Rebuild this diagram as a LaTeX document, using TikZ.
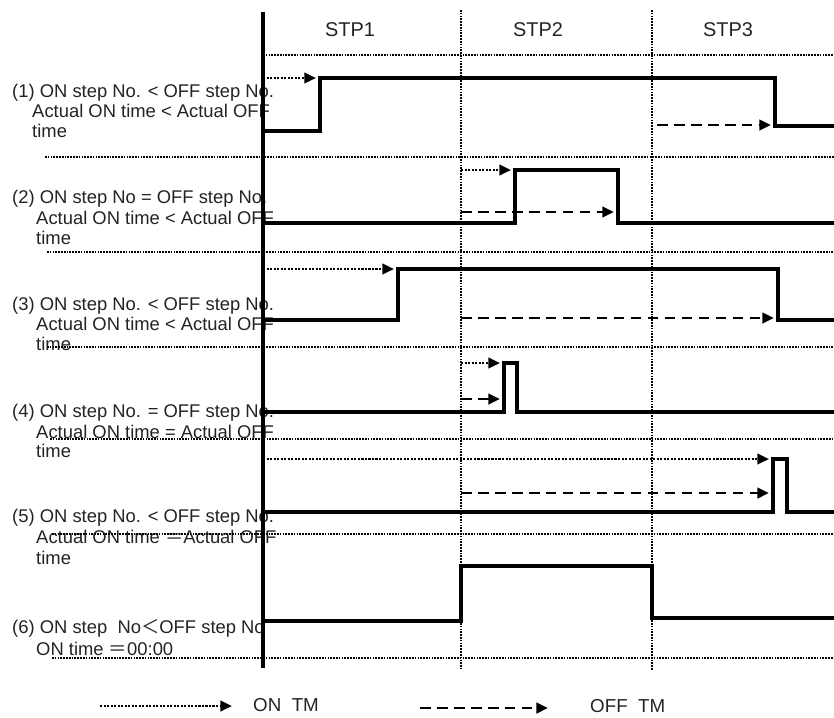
\documentclass[tikz,border=0pt]{standalone}
\usepackage{fontspec}
\setmainfont{Liberation Sans}
\newfontfamily\cjkfont{Noto Sans CJK SC}
\usetikzlibrary{arrows.meta}
\definecolor{txtgray}{RGB}{35,35,35}

\tikzset{
  sig/.style={line width=2.8pt, line join=miter},
  ontm/.style={line width=2.2pt, dash pattern=on 1.8pt off 1.2pt, -{Triangle[length=10pt,width=9pt]}},
  offtm/.style={line width=2.4pt, dash pattern=on 9pt off 5.5pt, -{Triangle[length=10pt,width=9pt]}},
  gridline/.style={line width=2pt, dash pattern=on 1.4pt off 1pt},
  lbl/.style={anchor=base west, inner sep=0pt, font=\fontsize{15.7}{17.4}\selectfont, text=txtgray},
  head/.style={anchor=base, inner sep=0pt, font=\fontsize{17}{19}\selectfont, text=txtgray},
}

\begin{document}
\begin{tikzpicture}[x=0.03cm, y=-0.03cm]
  \useasboundingbox (0,0) rectangle (834,717);

  % Step headers
  \node[head] (stp1) at (350,36) {STP1};
  \node[head] (stp2) at (538,36) {STP2};
  \node[head] (stp3) at (728,36) {STP3};

  % Row labels
  \node[lbl] (c1a) at (12,97)  {(1) ON step No. < OFF step No.};
  \node[lbl] (c1b) at (32,117) {Actual ON time < Actual OFF};
  \node[lbl] (c1c) at (32,137) {time};
  \node[lbl] (c2a) at (12,203) {(2) ON step No = OFF step No.};
  \node[lbl] (c2b) at (36,224) {Actual ON time < Actual OFF};
  \node[lbl] (c2c) at (36,244) {time};
  \node[lbl] (c3a) at (12,310) {(3) ON step No. < OFF step No.};
  \node[lbl] (c3b) at (36,330) {Actual ON time < Actual OFF};
  \node[lbl] (c3c) at (36,350) {time};
  \node[lbl] (c4a) at (12,417) {(4) ON step No. = OFF step No.};
  \node[lbl] (c4b) at (36,438) {Actual ON time = Actual OFF};
  \node[lbl] (c4c) at (36,457) {time};
  \node[lbl] (c5a) at (12,522) {(5) ON step No. < OFF step No.};
  \node[lbl] (c5b) at (36,543) {Actual ON time {\cjkfont ＝}Actual OFF};
  \node[lbl] (c5c) at (36,564) {time};
  \node[lbl] (c6a) at (12,633) {(6) ON step\ \ No{\cjkfont ＜}OFF step No};
  \node[lbl] (c6b) at (36,655) {ON time {\cjkfont ＝}00:00};

  % Grid lines
  \draw[gridline] (263,55) -- (834,55);
  \draw[gridline] (45,157) -- (834,157);
  \draw[gridline] (47,252) -- (834,252);
  \draw[gridline] (47,347) -- (834,347);
  \draw[gridline] (50,439) -- (834,439);
  \draw[gridline] (52,534) -- (834,534);
  \draw[gridline] (52,658) -- (834,658);
  \draw[gridline] (461,10) -- (461,668);
  \draw[gridline] (652,10) -- (652,670);

  % (1)
  \draw[sig] (263,131) -- (320,131) -- (320,78) -- (775,78) -- (775,126) -- (834,126);
  \draw[ontm] (263,78) -- (316,78);
  \draw[offtm] (657,125) -- (771,125);
  % (2)
  \draw[sig] (263,223) -- (515,223) -- (515,170) -- (618,170) -- (618,223) -- (834,223);
  \draw[ontm] (461,170) -- (511,170);
  \draw[offtm] (461,212) -- (614,212);
  % (3)
  \draw[sig] (263,320) -- (398,320) -- (398,269) -- (778,269) -- (778,320) -- (834,320);
  \draw[ontm] (263,269) -- (394,269);
  \draw[offtm] (461,318) -- (774,318);
  % (4)
  \draw[sig] (263,412) -- (504,412) -- (504,363) -- (517,363) -- (517,412) -- (834,412);
  \draw[ontm] (461,363) -- (500,363);
  \draw[offtm] (461,399) -- (500,399);
  % (5)
  \draw[sig] (263,512) -- (773,512) -- (773,459) -- (787,459) -- (787,512) -- (834,512);
  \draw[ontm] (263,459) -- (769,459);
  \draw[offtm] (461,493) -- (769,493);
  % (6)
  \draw[sig] (263,621) -- (461,621) -- (461,566) -- (652,566) -- (652,618) -- (834,618);

  % Time axis start
  \draw[line width=3.2pt] (263,12) -- (263,668);

  % Legend
  \draw[ontm] (100,706) -- (232,706);
  \node[lbl, font=\fontsize{16}{18}\selectfont] (onleg) at (253,711) {ON\ \ TM};
  \draw[offtm] (420,708) -- (548,708);
  \node[lbl, font=\fontsize{16}{18}\selectfont] (offleg) at (590,712) {OFF\ \ TM};
\end{tikzpicture}
\end{document}
